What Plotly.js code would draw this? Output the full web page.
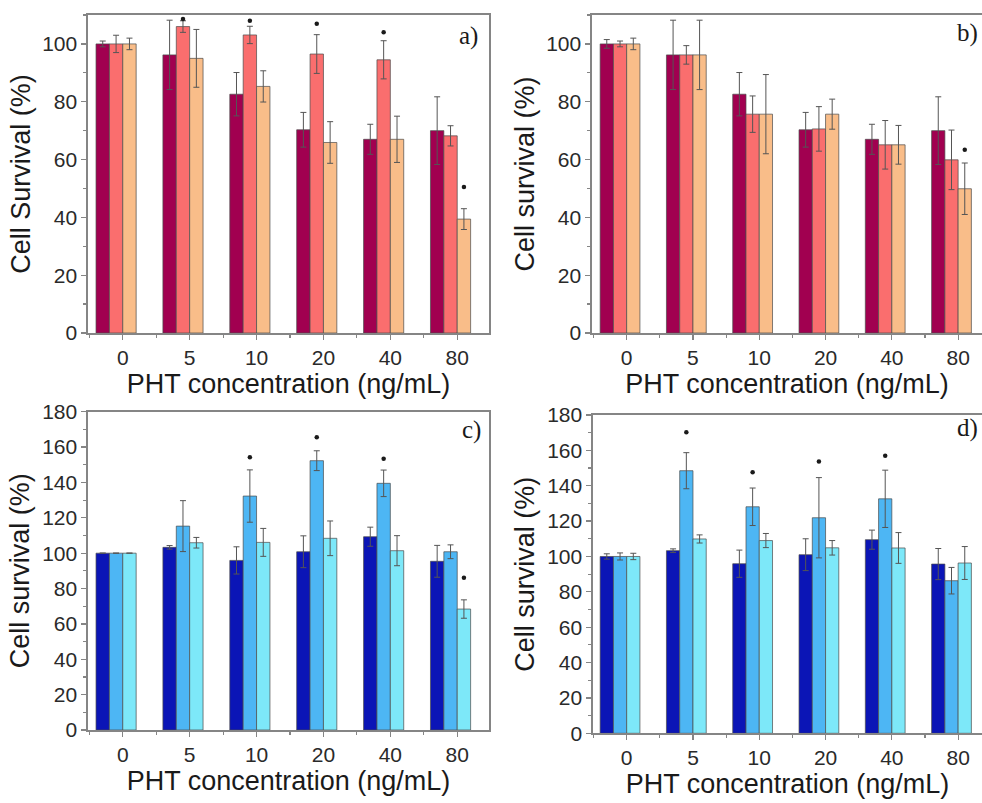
<!DOCTYPE html>
<html>
<head>
<meta charset="utf-8">
<script src="https://cdn.plot.ly/plotly-3.0.1.min.js"></script>
<style>
  html, body { margin: 0; padding: 0; background: #fff; overflow: hidden; }
  #chart { width: 982px; height: 803px; }
</style>
</head>
<body>
<div id="chart"></div>
<script>
// ---------- DATA ----------
const categories = ["0", "5", "10", "20", "40", "80"];

// Panel a
const aS1 = [100, 96.2, 82.6, 70.3, 67.0, 70.0];
const aS1err = [1, 12, 7.5, 6, 5.2, 11.7];
const aS2 = [100, 106.0, 103.1, 96.5, 94.5, 68.2];
const aS2err = [3, 2, 3, 6.7, 6.6, 3.5];
const aS3 = [100, 95.0, 85.3, 65.9, 67.0, 39.4];
const aS3err = [2, 10, 5.4, 7.2, 8, 3.6];
const aStar2 = [null, 108.6, 108, 107, 104, null];
const aStar3 = [null, null, null, null, null, 50.5];

// Panel b
const bS1 = [100, 96.2, 82.6, 70.3, 67.0, 70.0];
const bS1err = [1.5, 12, 7.5, 6, 5.2, 11.7];
const bS2 = [100, 96.2, 75.7, 70.6, 65.1, 59.9];
const bS2err = [1, 3.2, 6.3, 7.7, 8.4, 10.3];
const bS3 = [100, 96.2, 75.7, 75.7, 65.1, 49.9];
const bS3err = [2, 12, 13.7, 5.2, 6.7, 8.9];
const bStar3 = [null, null, null, null, null, 63.4];

// Panel c
const cS1 = [100, 103.3, 95.9, 100.8, 109.3, 95.4];
const cS1err = [0, 1, 7.7, 9, 5.4, 9];
const cS2 = [100, 115.3, 132.3, 152.3, 139.5, 100.8];
const cS2err = [0, 14.4, 14.8, 5.6, 7.5, 3.9];
const cS3 = [100, 105.9, 106.1, 108.4, 101.4, 68.4];
const cS3err = [0, 3, 7.9, 9.8, 8.5, 5.2];
const cStar2 = [null, null, 154.2, 165.5, 153.4, null];
const cStar3 = [null, null, null, null, null, 86.1];

// Panel d
const dS1 = [100, 103.3, 95.9, 101.0, 109.5, 95.7];
const dS1err = [1.5, 1, 7.7, 9, 5.4, 8.8];
const dS2 = [100, 148.5, 128.1, 121.9, 132.6, 86.3];
const dS2err = [2, 10.2, 10.6, 22.7, 16.2, 7.5];
const dS3 = [100, 109.9, 109.0, 104.9, 104.8, 96.3];
const dS3err = [1.8, 2.3, 4, 4.1, 8.7, 9.3];
const dStar2 = [null, 170.2, 147.6, 153.7, 156.9, null];

// ---------- STYLE ----------
const redCols = ["#A10050", "#FA6E6E", "#F9BD89"];
const blueCols = ["#0B15B6", "#4DB6F4", "#7DE8F9"];
const offsets = [-0.4, -0.2, 0.0];
const barW = 0.2;
const xIdx = categories.map((_, i) => i);

const traces = [];
function addBars(xa, ya, series, errs, cols) {
  series.forEach((s, k) => {
    traces.push({
      type: "bar", x: xIdx, y: s, xaxis: xa, yaxis: ya,
      width: barW, offset: offsets[k],
      marker: { color: cols[k], line: { color: "#4a4a4a", width: 0.7 } },
      error_y: { type: "data", array: errs[k], visible: true, color: "#555", thickness: 1, width: 3 },
      showlegend: false, hoverinfo: "y"
    });
  });
}
function addStars(xa, ya, stars, k) {
  traces.push({
    type: "scatter", mode: "markers", x: xIdx.map(i => i + offsets[k] + barW / 2), y: stars,
    xaxis: xa, yaxis: ya, marker: { symbol: "circle", size: 4.5, color: "#1a1a1a" },
    showlegend: false, hoverinfo: "skip", cliponaxis: false
  });
}

addBars("x", "y", [aS1, aS2, aS3], [aS1err, aS2err, aS3err], redCols);
addStars("x", "y", aStar2, 1); addStars("x", "y", aStar3, 2);
addBars("x2", "y2", [bS1, bS2, bS3], [bS1err, bS2err, bS3err], redCols);
addStars("x2", "y2", bStar3, 2);
addBars("x3", "y3", [cS1, cS2, cS3], [cS1err, cS2err, cS3err], blueCols);
addStars("x3", "y3", cStar2, 1); addStars("x3", "y3", cStar3, 2);
addBars("x4", "y4", [dS1, dS2, dS3], [dS1err, dS2err, dS3err], blueCols);
addStars("x4", "y4", dStar2, 1);

const W = 982, H = 803;
const tickFont = { family: "Liberation Sans, Arial, sans-serif", size: 21, color: "#2a2a2a" };
const titleFont = { family: "Liberation Sans, Arial, sans-serif", size: 27, color: "#1a1a1a" };
const lineCol = "#858585";

function xAxis(dom, range, anchor, mirror) {
  return {
    domain: dom, range: range, anchor: anchor, fixedrange: true,
    tickmode: "array", tickvals: xIdx, ticktext: categories,
    ticks: "outside", ticklen: 5, tickcolor: lineCol, tickwidth: 1.2,
    minor: { tick0: 0.5, dtick: 1, ticks: "outside", ticklen: 3, tickcolor: lineCol },
    showline: true, linecolor: lineCol, linewidth: 1.6, mirror: mirror,
    showgrid: false, zeroline: false, tickfont: tickFont,
    title: { text: "PHT concentration (ng/mL)", font: titleFont, standoff: 6 }
  };
}
function yAxis(dom, range, anchor, mirror, title) {
  return {
    domain: dom, range: range, anchor: anchor, fixedrange: true,
    tick0: 0, dtick: 20,
    ticks: "outside", ticklen: 5, tickcolor: lineCol, tickwidth: 1.2,
    minor: { dtick: 10, ticks: "outside", ticklen: 3, tickcolor: lineCol },
    showline: true, linecolor: lineCol, linewidth: 1.6, mirror: mirror,
    showgrid: false, zeroline: false, tickfont: tickFont,
    title: { text: title, font: titleFont, standoff: 4 }
  };
}

const px = v => v / W, py = v => 1 - v / H;
const layout = {
  width: W, height: H, margin: { l: 0, r: 0, t: 0, b: 0 },
  paper_bgcolor: "#fff", plot_bgcolor: "#fff",
  barmode: "overlay", showlegend: false,
  xaxis: xAxis([px(88), px(489)], [-0.52, 5.475], "y", true),
  yaxis: yAxis([py(333), py(15)], [0, 110], "x", true, "Cell Survival (%)"),
  xaxis2: xAxis([px(592), 1], [-0.523, 5.36], "y2", true),
  yaxis2: yAxis([py(333), py(15)], [0, 110], "x2", false, "Cell survival (%)"),
  xaxis3: xAxis([px(88), px(489)], [-0.52, 5.475], "y3", true),
  yaxis3: yAxis([py(730), py(411.7)], [0, 180], "x3", true, "Cell survival (%)"),
  xaxis4: xAxis([px(593), 1], [-0.508, 5.36], "y4", true),
  yaxis4: yAxis([py(733.3), py(415)], [0, 180], "x4", false, "Cell survival (%)"),
  annotations: [
    { text: "a)", xref: "paper", yref: "paper", x: px(480), y: py(36) },
    { text: "b)", xref: "paper", yref: "paper", x: px(980), y: py(33) },
    { text: "c)", xref: "paper", yref: "paper", x: px(483), y: py(430) },
    { text: "d)", xref: "paper", yref: "paper", x: px(980), y: py(428) }
  ].map(a => Object.assign(a, {
    showarrow: false, xanchor: "right", yanchor: "middle",
    font: { family: "Liberation Serif, Times New Roman, serif", size: 25, color: "#1a1a1a" }
  }))
};

Plotly.newPlot("chart", traces, layout, { displayModeBar: false, staticPlot: true });
</script>
</body>
</html>
